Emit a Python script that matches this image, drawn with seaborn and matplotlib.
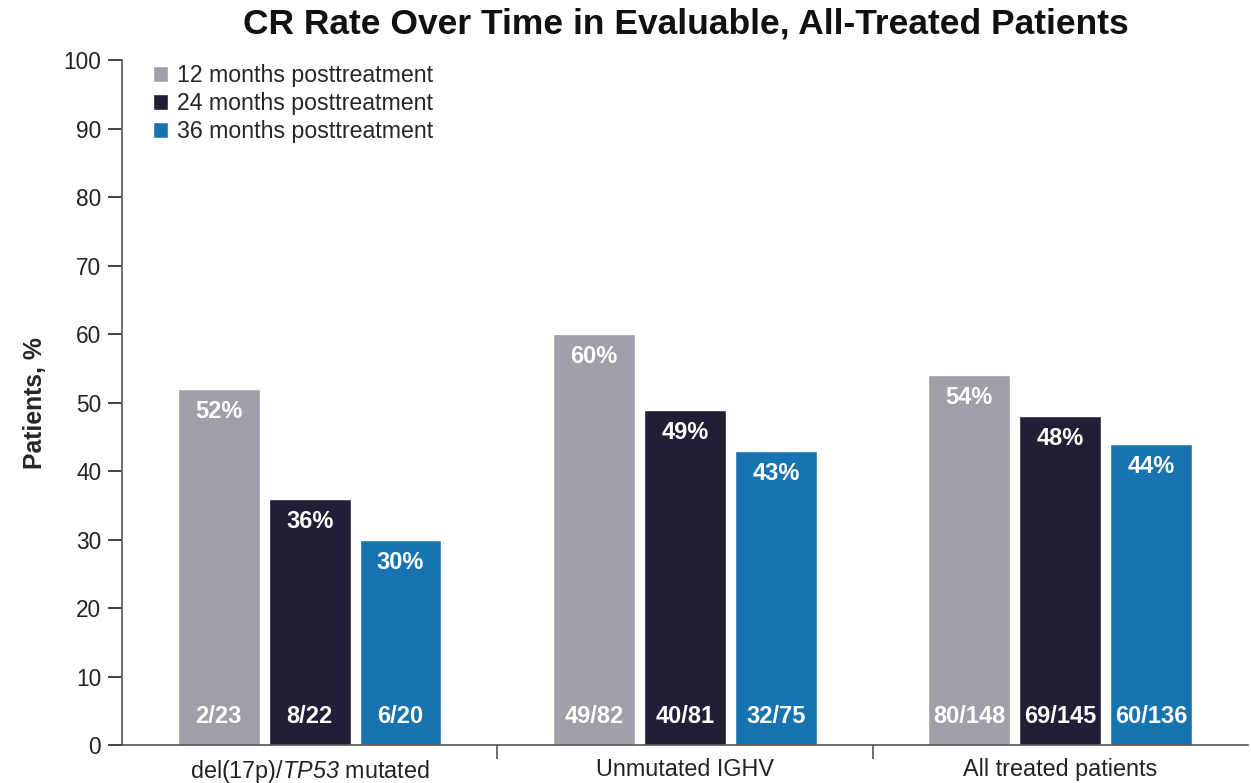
import seaborn as sns
import matplotlib.pyplot as plt
import pandas as pd

groups = ["del(17p)/TP53 mutated", "Unmutated IGHV", "All treated patients"]
group_labels = [r"del(17p)/$\mathsf{TP53}$ mutated", "Unmutated IGHV", "All treated patients"]
timepoints = ["12 months posttreatment", "24 months posttreatment", "36 months posttreatment"]
rates = {
    "12 months posttreatment": [52, 60, 54],
    "24 months posttreatment": [36, 49, 48],
    "36 months posttreatment": [30, 43, 44],
}
counts = {
    "12 months posttreatment": ["2/23", "49/82", "80/148"],
    "24 months posttreatment": ["8/22", "40/81", "69/145"],
    "36 months posttreatment": ["6/20", "32/75", "60/136"],
}
colors = ["#A09FA8", "#201F35", "#1874B0"]

rows = []
for t in timepoints:
    for g, v, c in zip(groups, rates[t], counts[t]):
        rows.append({"group": g, "time": t, "rate": v, "n": c})
df = pd.DataFrame(rows)

sns.set_style("white")
plt.rcParams["font.family"] = ["Liberation Sans", "DejaVu Sans"]
plt.rcParams["mathtext.fontset"] = "custom"
plt.rcParams["mathtext.sf"] = "Liberation Sans:italic"
plt.rcParams["mathtext.rm"] = "Liberation Sans"

fig = plt.figure(figsize=(12.51, 7.83), dpi=100)
ax = fig.add_axes([0.0975, 0.0485, 0.9, 0.8745])

sns.barplot(data=df, x="group", y="rate", hue="time", order=groups,
            hue_order=timepoints, palette=colors, width=0.727, gap=0.1,
            saturation=1, ax=ax)

for t, cont in zip(timepoints, ax.containers):
    for bar, v, c in zip(cont, rates[t], counts[t]):
        cx = bar.get_x() + bar.get_width() / 2
        ax.text(cx, v - 3.3, f"{v}%", ha="center", va="center", color="white",
                fontsize=17, fontweight="bold")
        ax.text(cx, 4.2, c, ha="center", va="center", color="white",
                fontsize=17, fontweight="bold")

ax.set_xlim(-0.5, 2.5)
ax.set_ylim(0, 100)
ax.set_yticks(range(0, 101, 10))
ax.tick_params(axis="y", labelsize=16.3, length=10, width=1.2, direction="out",
               left=True, pad=5, colors="#222222")
ax.set_xticks([0, 1, 2])
ax.set_xticklabels(group_labels, fontsize=16.8, color="#222222")
ax.tick_params(axis="x", which="major", length=0, pad=9)
ax.set_xticks([0.5, 1.5], minor=True)
ax.tick_params(axis="x", which="minor", length=10, width=1.2, direction="out",
               bottom=True, color="#555555")
ax.set_xlabel("")
ax.set_ylabel("Patients, %", fontsize=17.8, fontweight="bold", labelpad=12)

for s in ["top", "right"]:
    ax.spines[s].set_visible(False)
for s in ["left", "bottom"]:
    ax.spines[s].set_color("#555555")
    ax.spines[s].set_linewidth(1.2)

leg = ax.legend(loc="upper left", bbox_to_anchor=(0.009, 1.025), frameon=False,
                fontsize=16.7, handlelength=0.65, handleheight=0.65,
                handletextpad=0.4, labelspacing=0.22)

fig.suptitle("CR Rate Over Time in Evaluable, All-Treated Patients",
             x=0.548, y=0.99, fontsize=25.5, fontweight="bold", color="#111111")

fig.savefig("out.png", dpi=100)
